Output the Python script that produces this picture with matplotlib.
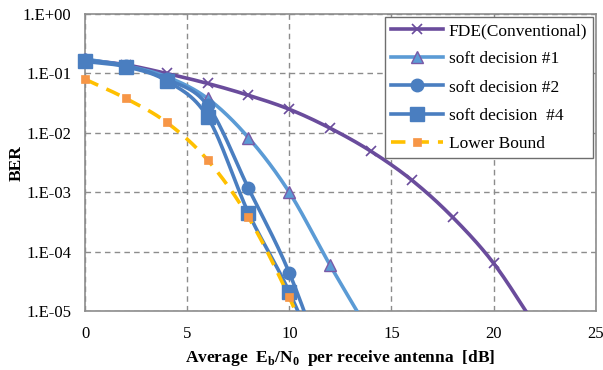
"""BER vs Eb/N0 for FDE and soft-decision schemes."""

import matplotlib
matplotlib.use('Agg')
import matplotlib.pyplot as plt
from matplotlib.lines import Line2D
import numpy as np

plt.rcParams['font.family'] = ['Liberation Serif', 'DejaVu Serif']
plt.rcParams['mathtext.fontset'] = 'custom'
plt.rcParams['mathtext.rm'] = 'Liberation Serif:bold'

# Data (last point of each series lies below the axis)
x_fde = [0, 2, 4, 6, 8, 10, 12, 14, 16, 18, 20, 22]
ber_fde = [0.17, 0.14, 0.10, 0.068, 0.043, 0.025, 0.012, 0.0049, 0.0016, 3.8e-4, 6.4e-5, 6e-6]

x_sd1 = [0, 2, 4, 6, 8, 10, 12, 14]
ber_sd1 = [0.175, 0.135, 0.088, 0.038, 0.0083, 1.0e-3, 5.9e-5, 4e-6]

x_sd2 = [0, 2, 4, 6, 8, 10, 12]
ber_sd2 = [0.17, 0.135, 0.08, 0.029, 1.17e-3, 4.4e-5, 6e-7]

x_sd4 = [0, 2, 4, 6, 8, 10, 12]
ber_sd4 = [0.16, 0.13, 0.075, 0.0185, 4.5e-4, 2.1e-5, 5e-7]

x_lb = [0, 2, 4, 6, 8, 10, 12]
ber_lb = [0.08, 0.038, 0.015, 0.0035, 3.8e-4, 1.7e-5, 4e-7]

labels = ['FDE(Conventional)', 'soft decision #1', 'soft decision #2',
          'soft decision  #4', 'Lower Bound']


def smooth(x, y, n=30):
    """Catmull-Rom smoothing in log space (like Excel's smoothed lines)."""
    x = np.asarray(x, float)
    ly = np.log10(np.asarray(y, float))
    px = np.concatenate([[2 * x[0] - x[1]], x, [2 * x[-1] - x[-2]]])
    py = np.concatenate([[2 * ly[0] - ly[1]], ly, [2 * ly[-1] - ly[-2]]])
    xs, ys = [], []
    t = np.linspace(0, 1, n)
    for i in range(1, len(px) - 2):
        for p, out in ((px, xs), (py, ys)):
            p0, p1, p2, p3 = p[i - 1], p[i], p[i + 1], p[i + 2]
            out.append(0.5 * (2 * p1 + (-p0 + p2) * t
                              + (2 * p0 - 5 * p1 + 4 * p2 - p3) * t ** 2
                              + (-p0 + 3 * p1 - 3 * p2 + p3) * t ** 3))
    return np.concatenate(xs), 10 ** np.concatenate(ys)


fig = plt.figure(figsize=(6.03, 3.70), dpi=100)
ax = fig.add_axes([0.141, 0.159, 0.847, 0.803])

series = [
    (x_fde, ber_fde, dict(color='#6A4C9C', lw=2.6, ls='-'),
     dict(marker='x', ms=7, mew=1.2, mfc='#6A4C9C', mec='#6A4C9C')),
    (x_sd1, ber_sd1, dict(color='#5B9BD5', lw=2.6, ls='-'),
     dict(marker='^', ms=9, mew=1.0, mfc='#5B9BD5', mec='#7A5AA6')),
    (x_sd2, ber_sd2, dict(color='#4A7EC0', lw=2.6, ls='-'),
     dict(marker='o', ms=9, mew=1.0, mfc='#4A7EC0', mec='#4A7EC0')),
    (x_sd4, ber_sd4, dict(color='#4A7EC0', lw=2.6, ls='-'),
     dict(marker='s', ms=10, mew=1.0, mfc='#4A7EC0', mec='#4A7EC0')),
    (x_lb, ber_lb, dict(color='#FFC000', lw=2.6, ls=(0, (4, 2.5))),
     dict(marker='s', ms=6, mew=0.5, mfc='#F79646', mec='#F79646')),
]

handles = []
for (xs, ys, lstyle, mstyle), lab in zip(series, labels):
    sx, sy = smooth(xs, ys)
    ax.plot(sx, sy, zorder=3, **lstyle)
    # markers only for points inside the plotted range
    inside = [i for i, v in enumerate(ys) if v >= 1e-5]
    ax.plot([xs[i] for i in inside], [ys[i] for i in inside], ls='none',
            clip_on=False, zorder=4, **mstyle)
    handles.append(Line2D([], [], **lstyle, **mstyle))

ax.set_yscale('log')
ax.set_xlim(0, 25)
ax.set_ylim(1e-5, 1)
ax.set_xticks([0, 5, 10, 15, 20, 25])
ax.set_yticks([1, 1e-1, 1e-2, 1e-3, 1e-4, 1e-5])
ax.set_yticklabels(['1.E+00', '1.E-01', '1.E-02', '1.E-03', '1.E-04', '1.E-05'])
ax.yaxis.set_minor_locator(matplotlib.ticker.NullLocator())
ax.tick_params(length=0, labelsize=12)
ax.tick_params(axis='x', pad=11)
ax.tick_params(axis='y', pad=10)
ax.grid(True, color='#8C8C8C', ls=(0, (4, 3)), lw=1.0)
for s in ax.spines.values():
    s.set_color('#8C8C8C')
    s.set_linewidth(1.2)

ax.set_xlabel(r'Average  E$_\mathrm{b}$/N$_\mathrm{0}$  per receive antenna  [dB]',
              fontsize=12.5, fontweight='bold', labelpad=4)
ax.set_ylabel('BER', fontsize=12.5, fontweight='bold')
ax.yaxis.set_label_coords(-0.119, 0.5)

leg = ax.legend(handles, labels, loc='upper right', fontsize=12.5, handlelength=3.0,
                borderaxespad=0.15, fancybox=False, framealpha=1,
                edgecolor='#6E6E6E', labelspacing=0.7, handletextpad=0.3,
                borderpad=0.35)
leg.get_frame().set_linewidth(1.0)

fig.savefig('out.png', dpi=100)
